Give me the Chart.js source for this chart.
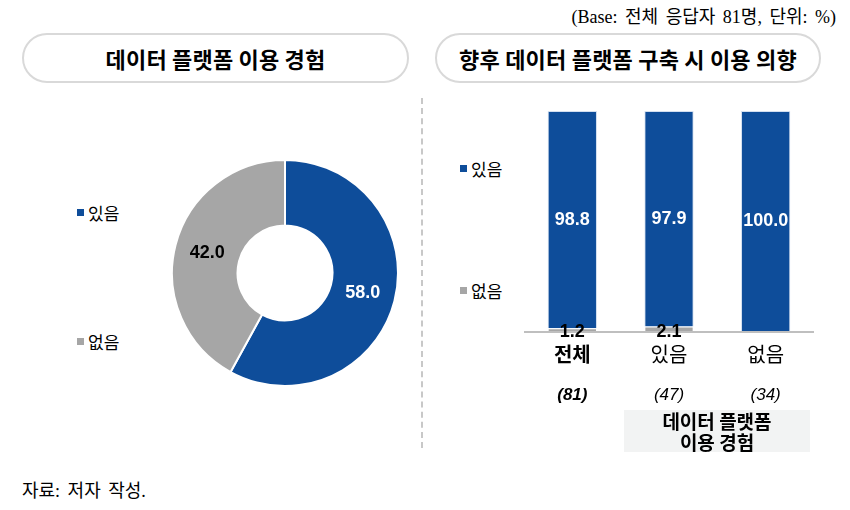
<!DOCTYPE html>
<html>
<head>
<meta charset="utf-8">
<script src="https://cdn.jsdelivr.net/npm/chart.js@4"></script>
<style>
  body { margin: 0; width: 850px; height: 510px; background: #fff; position: relative; overflow: hidden;
         font-family: "Noto Sans CJK KR", "Noto Sans", sans-serif; color: #000; }
  .abs { position: absolute; }
  .note { right: 14px; top: 2px; font-family: "Liberation Serif", "DejaVu Serif", "Noto Sans CJK KR", serif; font-size: 18px; word-spacing: 3px; }
  .pill { top: 33px; height: 50px; border: 2px solid #d9d9d9; border-radius: 27px; box-sizing: border-box;
          display: flex; align-items: center; justify-content: center; font-weight: bold; font-size: 22px; letter-spacing: 0.2px; }
  .divider { left: 421px; top: 98px; height: 350px; border-left: 2px dashed #c8c8c8; }
  .leg { font-size: 17px; display: flex; align-items: center; }
  .leg i { display: inline-block; width: 7px; height: 7px; margin-right: 4px; }
  .groupbox { left: 624px; top: 410px; width: 186px; height: 42px; background: #f2f3f3; text-align: center;
              font-weight: bold; font-size: 19px; line-height: 21px; box-sizing: border-box; }
  .src { left: 22px; top: 476px; font-family: "Liberation Serif", "DejaVu Serif", "Noto Sans CJK KR", serif; font-size: 18px; word-spacing: 3px; }
</style>
</head>
<body>
<div class="abs note">(Base: 전체 응답자 81명, 단위: %)</div>
<div class="abs pill" style="left:22px;width:387px;">데이터 플랫폼 이용 경험</div>
<div class="abs pill" style="left:435px;width:386px;">향후 데이터 플랫폼 구축 시 이용 의향</div>
<div class="abs divider"></div>

<div class="abs leg" style="left:77px;top:200px;"><i style="background:#0e4d9a"></i>있음</div>
<div class="abs leg" style="left:77px;top:329px;"><i style="background:#a6a6a6"></i>없음</div>
<div class="abs leg" style="left:460px;top:156px;"><i style="background:#0e4d9a"></i>있음</div>
<div class="abs leg" style="left:460px;top:278px;"><i style="background:#a6a6a6"></i>없음</div>

<canvas id="donut" class="abs" style="left:171px;top:159px;" width="228" height="228"></canvas>
<canvas id="bars" class="abs" style="left:430px;top:95px;" width="400" height="320"></canvas>

<div class="abs groupbox">데이터 플랫폼<br>이용 경험</div>
<div class="abs src">자료: 저자 작성.</div>

<script>
const BLUE = '#0e4d9a';
const GREY = '#a6a6a6';

// 데이터 플랫폼 이용 경험
const useLabels = ['있음', '없음'];
const useValues = [58.0, 42.0];

// 향후 이용 의향 by group
const groups = ['전체', '있음', '없음'];
const groupN = ['(81)', '(47)', '(34)'];
const intendYes = [98.8, 97.9, 100.0];
const intendNo = [1.2, 2.1, 0];

const numFont = '"Liberation Sans", Arial, sans-serif';

const donutLabels = {
  id: 'donutLabels',
  afterDatasetsDraw(chart) {
    const ctx = chart.ctx;
    const meta = chart.getDatasetMeta(0);
    ctx.save();
    ctx.font = 'bold 18px ' + numFont;
    ctx.textAlign = 'center';
    ctx.textBaseline = 'middle';
    meta.data.forEach((arc, i) => {
      const p = arc.tooltipPosition();
      ctx.fillStyle = i === 0 ? '#fff' : '#000';
      ctx.fillText(useValues[i].toFixed(1), p.x, p.y);
    });
    ctx.restore();
  }
};

new Chart(document.getElementById('donut'), {
  type: 'doughnut',
  data: {
    labels: useLabels,
    datasets: [{ data: useValues, backgroundColor: [BLUE, GREY], borderColor: '#fff', borderWidth: 2 }]
  },
  options: {
    responsive: false,
    animation: false,
    cutout: '42%',
    layout: { padding: 0 },
    plugins: { legend: { display: false }, tooltip: { enabled: false } }
  },
  plugins: [donutLabels]
});

const barDecor = {
  id: 'barDecor',
  beforeDatasetsDraw(chart) {
    const { ctx, chartArea } = chart;
    ctx.save();
    ctx.strokeStyle = '#bfbfbf';
    ctx.lineWidth = 2;
    ctx.beginPath();
    ctx.moveTo(chartArea.left, chartArea.bottom + 1);
    ctx.lineTo(chartArea.right, chartArea.bottom + 1);
    ctx.stroke();
    ctx.restore();
  },
  afterDatasetsDraw(chart) {
    const { ctx, chartArea } = chart;
    const x = chart.scales.x;
    const y = chart.scales.y;
    ctx.save();
    ctx.textAlign = 'center';
    ctx.textBaseline = 'middle';
    // blue segment values
    ctx.font = 'bold 18px ' + numFont;
    ctx.fillStyle = '#fff';
    intendYes.forEach((v, i) => {
      const mid = y.getPixelForValue(intendNo[i] + v / 2);
      ctx.fillText(v.toFixed(1), x.getPixelForValue(i), mid);
    });
    // grey segment values (small, drawn over the base)
    ctx.fillStyle = '#000';
    intendNo.forEach((v, i) => {
      if (v > 0) ctx.fillText(v.toFixed(1), x.getPixelForValue(i), y.getPixelForValue(0) + 1);
    });
    // category labels
    groups.forEach((g, i) => {
      ctx.font = (i === 0 ? 'bold ' : '') + '20px "Noto Sans CJK KR", sans-serif';
      ctx.fillText(g, x.getPixelForValue(i), chartArea.bottom + 23);
      ctx.font = (i === 0 ? 'bold ' : '') + 'italic 17px ' + numFont;
      ctx.fillText(groupN[i], x.getPixelForValue(i), chartArea.bottom + 64);
    });
    ctx.restore();
  }
};

new Chart(document.getElementById('bars'), {
  type: 'bar',
  data: {
    labels: groups,
    datasets: [
      { label: '없음', data: intendNo, backgroundColor: GREY, borderColor: 'rgba(255,255,255,0.7)', borderWidth: 1,
        categoryPercentage: 1, barPercentage: 0.51 },
      { label: '있음', data: intendYes, backgroundColor: BLUE, borderColor: 'rgba(200,215,235,0.8)', borderWidth: 1,
        categoryPercentage: 1, barPercentage: 0.51 }
    ]
  },
  options: {
    responsive: false,
    animation: false,
    layout: { padding: { left: 94, right: 16, top: 16, bottom: 84 } },
    scales: {
      x: { stacked: true, display: false },
      y: { stacked: true, display: false, min: 0, max: 100 }
    },
    plugins: { legend: { display: false }, tooltip: { enabled: false } }
  },
  plugins: [barDecor]
});
</script>
</body>
</html>
